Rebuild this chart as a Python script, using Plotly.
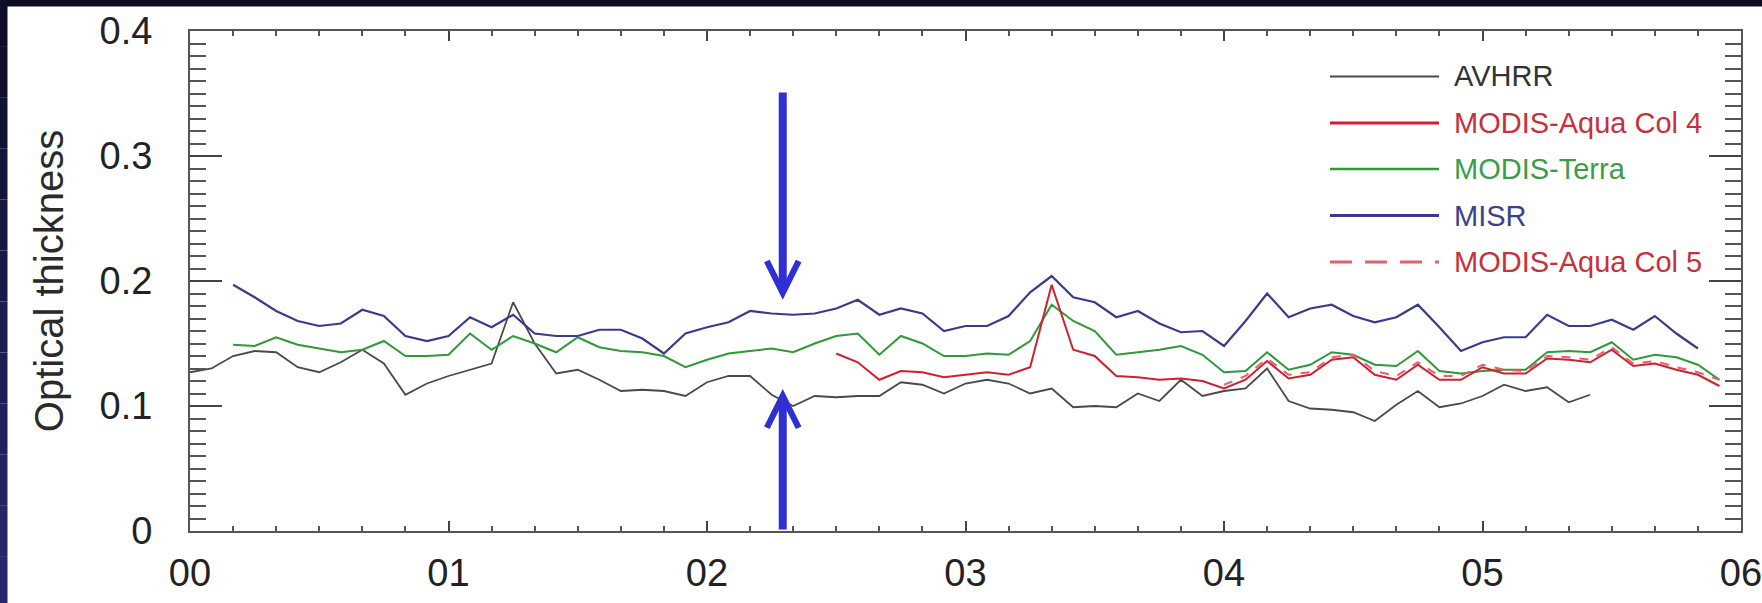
import plotly.graph_objects as go

# ---------------- data (monthly values, month index from Jan 2000) ----------------
avhrr_start = 0
avhrr = [0.127, 0.130, 0.140, 0.144, 0.143, 0.131, 0.127, 0.135, 0.145, 0.134,
         0.109, 0.118, 0.124, 0.129, 0.134, 0.183, 0.150, 0.126, 0.129, 0.121,
         0.112, 0.113, 0.112, 0.108, 0.119, 0.124, 0.124, 0.109, 0.100, 0.108,
         0.107, 0.108, 0.108, 0.119, 0.117, 0.110, 0.118, 0.121, 0.118, 0.110,
         0.114, 0.099, 0.100, 0.099, 0.110, 0.104, 0.121, 0.108, 0.112, 0.114,
         0.130, 0.104, 0.098, 0.097, 0.095, 0.088, 0.101, 0.112, 0.099, 0.102,
         0.108, 0.117, 0.112, 0.115, 0.103, 0.109]

aqua4_start = 30
aqua4 = [0.142, 0.135, 0.121, 0.128, 0.127, 0.123, 0.125, 0.127, 0.125, 0.131,
         0.197, 0.145, 0.140, 0.124, 0.123, 0.121, 0.122, 0.120, 0.114, 0.121,
         0.136, 0.122, 0.125, 0.137, 0.139, 0.125, 0.121, 0.133, 0.121, 0.121,
         0.131, 0.126, 0.126, 0.138, 0.137, 0.135, 0.145, 0.132, 0.134, 0.129,
         0.125, 0.116]

terra_start = 2
terra = [0.149, 0.148, 0.155, 0.149, 0.146, 0.143, 0.145, 0.152, 0.140, 0.140,
         0.141, 0.158, 0.145, 0.156, 0.150, 0.143, 0.155, 0.147, 0.144, 0.143,
         0.140, 0.131, 0.137, 0.142, 0.144, 0.146, 0.143, 0.150, 0.156, 0.158,
         0.141, 0.156, 0.150, 0.140, 0.140, 0.142, 0.141, 0.152, 0.181, 0.168,
         0.160, 0.141, 0.143, 0.145, 0.148, 0.141, 0.127, 0.128, 0.143, 0.129,
         0.133, 0.143, 0.141, 0.133, 0.132, 0.144, 0.128, 0.126, 0.128, 0.129,
         0.129, 0.143, 0.144, 0.143, 0.151, 0.137, 0.141, 0.139, 0.133, 0.121]

misr_start = 2
misr = [0.197, 0.187, 0.176, 0.168, 0.164, 0.166, 0.177, 0.172, 0.156, 0.152,
        0.156, 0.171, 0.163, 0.173, 0.158, 0.156, 0.156, 0.161, 0.161, 0.154,
        0.142, 0.158, 0.163, 0.167, 0.176, 0.174, 0.173, 0.174, 0.178, 0.185,
        0.173, 0.178, 0.174, 0.160, 0.164, 0.164, 0.172, 0.191, 0.204, 0.187,
        0.183, 0.171, 0.176, 0.166, 0.159, 0.160, 0.148, 0.168, 0.190, 0.171,
        0.178, 0.181, 0.172, 0.167, 0.171, 0.181, 0.163, 0.144, 0.151, 0.155,
        0.155, 0.173, 0.164, 0.164, 0.169, 0.161, 0.172, 0.158, 0.146]

aqua5_start = 48
aqua5 = [0.117, 0.124, 0.138, 0.125, 0.127, 0.139, 0.141, 0.128, 0.124, 0.135,
         0.124, 0.124, 0.133, 0.129, 0.128, 0.140, 0.139, 0.137, 0.147, 0.134,
         0.136, 0.131, 0.127, 0.121]

x_tickvals = [0, 1, 2, 3, 4, 5, 6]
x_ticktext = ["00", "01", "02", "03", "04", "05", "06"]
y_tickvals = [0, 0.1, 0.2, 0.3, 0.4]
y_ticktext = ["0", "0.1", "0.2", "0.3", "0.4"]

legend_names = ["AVHRR", "MODIS-Aqua Col 4", "MODIS-Terra", "MISR", "MODIS-Aqua Col 5"]

# arrows marking a date (year fraction) and value ranges
arrow_x = 2.293
arrow_down = (0.352, 0.185)   # tail, tip
arrow_up = (0.0, 0.1136)      # tail, tip

# ---------------- styling ----------------
FONT = "Liberation Sans, Arial, sans-serif"
C_AVHRR = "#4a4a4a"
C_AQUA4 = "#d21f2e"
C_TERRA = "#2e9a38"
C_MISR = "#3a3b8e"
C_AQUA5 = "#e4606c"
C_ARROW = "#2f2fd4"


def months_to_x(start, n):
    return [(start + i) / 12.0 for i in range(n)]


fig = go.Figure()
series = [
    (avhrr, avhrr_start, C_AVHRR, "solid", 1.8, legend_names[0]),
    (terra, terra_start, C_TERRA, "solid", 2.0, legend_names[2]),
    (misr, misr_start, C_MISR, "solid", 2.2, legend_names[3]),
    (aqua4, aqua4_start, C_AQUA4, "solid", 2.0, legend_names[1]),
    (aqua5, aqua5_start, C_AQUA5, "dash", 2.0, legend_names[4]),
]
for vals, st, col, dash, w, nm in series:
    fig.add_trace(go.Scatter(
        x=months_to_x(st, len(vals)), y=vals, mode="lines", name=nm,
        line=dict(color=col, width=w, dash=dash), showlegend=False,
        hoverinfo="x+y+name"))

# plot-area geometry (px) for the paper-anchored decorations
L, R, T, B, W, H = 190, 21, 31, 72, 1762, 603
PW, PH = W - L - R, H - T - B


def px_x(px):
    return (px - L) / PW


def px_y(py):
    return (H - B - py) / PH


shapes = []
# dark frame bands on the top and left of the slide
shapes.append(dict(type="rect", xref="paper", yref="paper", layer="above",
                   x0=px_x(-5), x1=px_x(W + 5), y0=px_y(6.5), y1=px_y(-5),
                   fillcolor="#0c0c20", line=dict(width=0)))
nseg = 12
for k in range(nseg):
    t = k / (nseg - 1)
    r = int(14 + (40 - 14) * t)
    g = int(14 + (40 - 14) * t)
    b = int(40 + (110 - 40) * t)
    y_top = -5 + (H + 10) * k / nseg
    y_bot = -5 + (H + 10) * (k + 1) / nseg
    shapes.append(dict(type="rect", xref="paper", yref="paper", layer="above",
                       x0=px_x(-5), x1=px_x(7.5), y0=px_y(y_bot), y1=px_y(y_top),
                       fillcolor=f"rgb({r},{g},{b})", line=dict(width=0)))

# custom legend
leg_rows = [76.5, 123, 169, 215.5, 262]
leg_cols = [C_AVHRR, C_AQUA4, C_TERRA, C_MISR, C_AQUA5]
leg_txt_cols = ["#333333", "#c8303c", "#3c9c4a", "#3c418e", "#c8303c"]
leg_dash = ["solid", "solid", "solid", "solid", "22px,13px"]
leg_w = [2.2, 3, 2.4, 3, 3]
annotations = []
for i, nm in enumerate(legend_names):
    shapes.append(dict(type="line", xref="paper", yref="paper", layer="above",
                       x0=px_x(1330), x1=px_x(1439), y0=px_y(leg_rows[i]), y1=px_y(leg_rows[i]),
                       line=dict(color=leg_cols[i], width=leg_w[i], dash=leg_dash[i])))
    annotations.append(dict(xref="paper", yref="paper", x=px_x(1452), y=px_y(leg_rows[i]),
                            xanchor="left", yanchor="middle", showarrow=False, text=nm,
                            font=dict(family=FONT, size=29, color=leg_txt_cols[i])))

# arrows
for tail, tip in (arrow_down, arrow_up):
    annotations.append(dict(x=arrow_x, y=tip, ax=arrow_x, ay=tail, xref="x", yref="y",
                            axref="x", ayref="y", text="", showarrow=True,
                            arrowhead=5, arrowsize=0.78, arrowwidth=8, arrowcolor=C_ARROW))

axis_common = dict(showline=True, linecolor="#555555", linewidth=2, mirror="allticks",
                   ticks="inside", tickcolor="#444444", showgrid=False, zeroline=False,
                   automargin=False,
                   tickfont=dict(family=FONT, size=38, color="#222222"))

fig.update_layout(
    width=W, height=H, autosize=False,
    margin=dict(l=L, r=R, t=T, b=B, pad=0, autoexpand=False),
    paper_bgcolor="white", plot_bgcolor="white",
    showlegend=False,
    xaxis=dict(range=[0, 6], tickvals=x_tickvals, ticktext=x_ticktext, ticklen=10, tickwidth=2,
               ticklabelstandoff=7, ticklabeloverflow="allow",
               minor=dict(dtick=1 / 6, tick0=0, ticks="inside", ticklen=5, tickwidth=1.5,
                          tickcolor="#555555"),
               **axis_common),
    yaxis=dict(range=[0, 0.4], tickvals=y_tickvals, ticktext=y_ticktext, ticklen=32, tickwidth=2,
               ticklabelstandoff=28,
               minor=dict(dtick=0.01, tick0=0, ticks="inside", ticklen=16, tickwidth=2,
                          tickcolor="#555555"),
               title=dict(text="Optical thickness", standoff=24,
                          font=dict(family=FONT, size=40, color="#2a2a2a")),
               **axis_common),
    shapes=shapes,
    annotations=annotations,
)

fig.write_html("out.html")
